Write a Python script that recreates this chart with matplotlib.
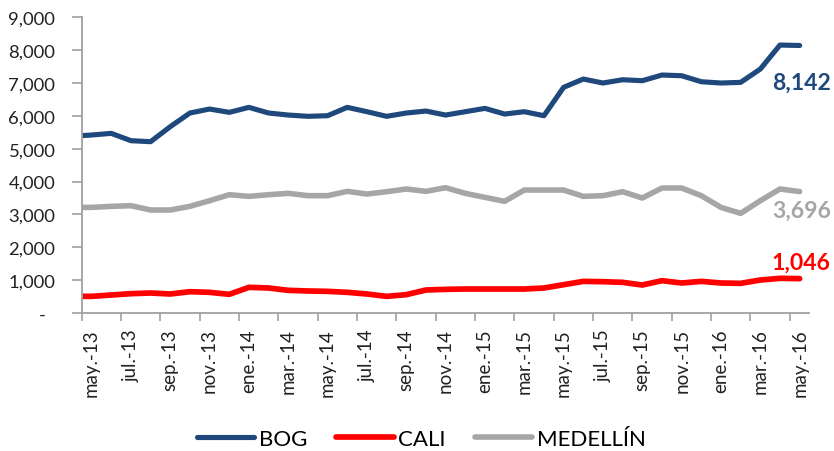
import numpy as np
import matplotlib
matplotlib.use("Agg")
import matplotlib.pyplot as plt

plt.rcParams['font.family'] = ['Lato', 'DejaVu Sans']

# Months (the leading 'abr.-13' point only shows as the short stub reaching the axis)
months = ['abr.-13', 'may.-13', 'jun.-13', 'jul.-13', 'ago.-13', 'sep.-13', 'oct.-13', 'nov.-13', 'dic.-13',
          'ene.-14', 'feb.-14', 'mar.-14', 'abr.-14', 'may.-14', 'jun.-14', 'jul.-14', 'ago.-14', 'sep.-14',
          'oct.-14', 'nov.-14', 'dic.-14', 'ene.-15', 'feb.-15', 'mar.-15', 'abr.-15', 'may.-15', 'jun.-15',
          'jul.-15', 'ago.-15', 'sep.-15', 'oct.-15', 'nov.-15', 'dic.-15', 'ene.-16', 'feb.-16', 'mar.-16',
          'abr.-16', 'may.-16']

bog = [5380, 5417, 5468, 5245, 5214, 5671, 6087, 6208, 6107, 6259, 6087, 6025, 5986, 6005, 6259, 6127,
       5986, 6087, 6147, 6025, 6127, 6228, 6056, 6127, 6005, 6868, 7121, 7000, 7100, 7070, 7243, 7222,
       7039, 7000, 7020, 7425, 8156, 8142]
cali = [507, 507, 548, 588, 609, 578, 649, 629, 568, 781, 761, 690, 670, 659, 629, 578, 507, 558, 700,
        720, 730, 730, 730, 730, 761, 862, 963, 953, 933, 852, 984, 913, 963, 913, 903, 1004, 1055, 1046]
medellin = [3215, 3215, 3246, 3266, 3135, 3135, 3246, 3418, 3601, 3550, 3601, 3642, 3571, 3571, 3703,
            3621, 3692, 3774, 3703, 3814, 3642, 3520, 3398, 3743, 3743, 3743, 3550, 3571, 3692, 3500, 3804,
            3804, 3571, 3215, 3033, 3418, 3774, 3696]

series_names = ['BOG', 'CALI', 'MEDELLÍN']
colors = ['#1F497D', '#FF0000', '#A6A6A6']
end_labels = ['8,142', '1,046', '3,696']
yticks = [0, 1000, 2000, 3000, 4000, 5000, 6000, 7000, 8000, 9000]
ytick_labels = ['-  ', '1,000', '2,000', '3,000', '4,000', '5,000', '6,000', '7,000', '8,000', '9,000']

x = np.arange(len(months)) - 1

fig = plt.figure(figsize=(8.34, 4.52), dpi=100)
ax = fig.add_axes([0.098, 0.3053, 0.8726, 0.6542])

data = [bog, cali, medellin]
lws = [3.7, 4.1, 4.0]
lines = []
for vals, c, name, lw in zip(data, colors, series_names, lws):
    ln, = ax.plot(x, vals, color=c, lw=lw, label=name, solid_capstyle='round', solid_joinstyle='round')
    lines.append(ln)

ax.set_xlim(-0.5, 36.5)
ax.set_ylim(0, 9000)

ax.set_yticks(yticks)
ax.set_yticklabels(ytick_labels, fontsize=13.3, color='#222222')

# Major ticks at category boundaries, labels at category centres every two months
ax.set_xticks(np.arange(-0.5, 36.6, 2))
ax.set_xticklabels([])
lab_pos = x[1::2]
lab_txt = months[1::2]
ax.set_xticks(lab_pos, minor=True)
ax.set_xticklabels(lab_txt, minor=True, rotation=90, fontsize=13.5, color='#222222')
ax.tick_params(axis='x', which='minor', length=0, pad=11)
ax.tick_params(axis='x', which='major', length=6, width=1.2, color='#A0A0A0', direction='out')
ax.tick_params(axis='y', length=7, width=1.2, color='#A0A0A0', direction='out', pad=12)

for s in ['top', 'right']:
    ax.spines[s].set_visible(False)
for s in ['left', 'bottom']:
    ax.spines[s].set_color('#A0A0A0')
    ax.spines[s].set_linewidth(1.3)

offsets = [(-20, -26.6), (-20, 12), (-20, -13.7)]
for vals, c, lab, off in zip(data, colors, end_labels, offsets):
    ax.annotate(lab, xy=(x[-1], vals[-1]), xytext=off, textcoords='offset points',
                ha='left', va='center', fontsize=16.6, fontweight='bold', color=c, annotation_clip=False)

fig.legend(handles=lines, loc='center', bbox_to_anchor=(0.505, 0.0265), ncol=3, frameon=False,
           fontsize=16, handlelength=2.6, handletextpad=0.2, columnspacing=1.3)

fig.savefig('out.png', dpi=100)
